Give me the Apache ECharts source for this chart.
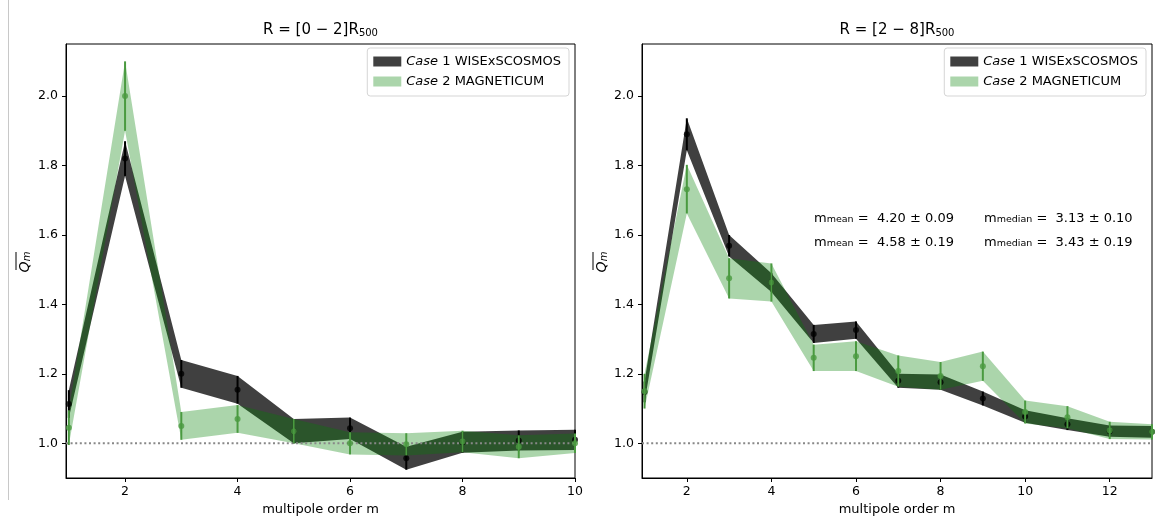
<!DOCTYPE html>
<html><head><meta charset="utf-8">
<script src="https://cdn.jsdelivr.net/npm/echarts@6/dist/echarts.min.js"></script>
<style>html,body{margin:0;padding:0;background:#fff}#c{width:1157px;height:527px}</style>
</head><body><div id="c"></div>
<script>
// ---- data ----
const mLeft = [1, 2, 3, 4, 5, 6, 7, 8, 9, 10];
const case1Left = [1.113, 1.82, 1.20, 1.154, 1.035, 1.043, 0.957, 1.003, 1.008, 1.010];
const case1LeftErr = [0.04, 0.05, 0.04, 0.04, 0.035, 0.031, 0.033, 0.030, 0.029, 0.029];
const case2Left = [1.045, 2.00, 1.05, 1.07, 1.035, 1.00, 0.997, 1.005, 0.990, 1.000];
const case2LeftErr = [0.05, 0.10, 0.04, 0.04, 0.035, 0.032, 0.032, 0.031, 0.033, 0.028];

const mRight = [1, 2, 3, 4, 5, 6, 7, 8, 9, 10, 11, 12, 13];
const case1Right = [1.148, 1.89, 1.569, 1.463, 1.315, 1.326, 1.180, 1.176, 1.129, 1.077, 1.055, 1.035, 1.033];
const case1RightErr = [0.03, 0.046, 0.031, 0.027, 0.026, 0.025, 0.020, 0.022, 0.020, 0.018, 0.017, 0.016, 0.017];
const case2Right = [1.15, 1.732, 1.475, 1.463, 1.246, 1.251, 1.208, 1.194, 1.222, 1.090, 1.075, 1.037, 1.033];
const case2RightErr = [0.05, 0.070, 0.058, 0.055, 0.038, 0.043, 0.045, 0.040, 0.042, 0.033, 0.032, 0.025, 0.022];

const xTicksLeft = [2, 4, 6, 8, 10];
const xTicksRight = [2, 4, 6, 8, 10, 12];
const yTicks = [1.0, 1.2, 1.4, 1.6, 1.8, 2.0];
const refLine = 1.0;

const seriesNames = ['Case 1 WISExSCOSMOS', 'Case 2 MAGNETICUM'];
const titles = ['R = [0 − 2]R', 'R = [2 − 8]R'];
const titleSub = '500';
const statsBlack = ['4.20 ± 0.09', '3.13 ± 0.10'];
const statsGreen = ['4.58 ± 0.19', '3.43 ± 0.19'];

// ---- styles ----
const FONT = 'DejaVu Sans';
const BLACK_BAND = 'rgba(0,0,0,0.75)';
const GREEN_BAND = 'rgba(0,128,0,0.33)';
const GREEN_PT = '#4a9a40';
const GREEN_TXT = '#519e46';

function bandSeries(name, gi, ms, vals, errs, color, z) {
  return {
    type: 'custom', name, xAxisIndex: gi, yAxisIndex: gi, z, silent: true,
    itemStyle: { color },
    data: ms.map((m, i) => [m, vals[i] - errs[i], vals[i] + errs[i]]),
    encode: { x: 0, y: [1, 2] },
    renderItem(params, api) {
      if (params.dataIndex !== 0) return null;
      const lower = [], upper = [];
      for (let i = 0; i < ms.length; i++) {
        lower.push(api.coord([ms[i], vals[i] - errs[i]]));
        upper.push(api.coord([ms[i], vals[i] + errs[i]]));
      }
      return { type: 'polygon', shape: { points: lower.concat(upper.reverse()) }, style: { fill: color } };
    }
  };
}
function errSeries(name, gi, ms, vals, errs, color, z) {
  return {
    type: 'custom', name, xAxisIndex: gi, yAxisIndex: gi, z, silent: true,
    data: ms.map((m, i) => [m, vals[i] - errs[i], vals[i] + errs[i]]),
    encode: { x: 0, y: [1, 2] },
    renderItem(params, api) {
      const a = api.coord([api.value(0), api.value(1)]);
      const b = api.coord([api.value(0), api.value(2)]);
      return { type: 'line', shape: { x1: a[0], y1: a[1], x2: b[0], y2: b[1] }, style: { stroke: color, lineWidth: 2 } };
    }
  };
}
function ptSeries(name, gi, ms, vals, color, z) {
  return {
    type: 'scatter', name, xAxisIndex: gi, yAxisIndex: gi, z, silent: true,
    symbol: 'circle', symbolSize: 6, itemStyle: { color },
    data: ms.map((m, i) => [m, vals[i]])
  };
}
function refSeries(gi, xmin, xmax, z) {
  return {
    type: 'line', name: 'ref' + gi, xAxisIndex: gi, yAxisIndex: gi, z, silent: true,
    symbol: 'none', lineStyle: { color: '#888', width: 2, type: [2, 2.6] },
    data: [[xmin, refLine], [xmax, refLine]]
  };
}

const grids = [
  { left: 66, top: 44, width: 509, height: 434 },
  { left: 642, top: 44, width: 510, height: 434 }
];
const xr = [[0.95, 10], [0.94, 13]];
const xt = [xTicksLeft, xTicksRight];

const option = {
  animation: false,
  backgroundColor: '#fff',
  grid: grids.map(g => Object.assign({ show: true, borderColor: '#000', borderWidth: 1, backgroundColor: 'transparent' }, g)),
  xAxis: [0, 1].map(i => ({
    type: 'value', gridIndex: i, min: xr[i][0], max: xr[i][1],
    axisLine: { show: true, onZero: false, lineStyle: { color: '#000', width: 1 } },
    axisTick: { show: true, length: 4, customValues: xt[i], lineStyle: { color: '#000' } },
    axisLabel: { customValues: xt[i], color: '#000', fontFamily: FONT, fontSize: 12.5, margin: 7 },
    splitLine: { show: false },
    name: 'multipole order m', nameLocation: 'middle', nameGap: 25,
    nameTextStyle: { color: '#000', fontFamily: FONT, fontSize: 13 }
  })),
  yAxis: [0, 1].map(i => ({
    type: 'value', gridIndex: i, min: 0.9, max: 2.15,
    axisLine: { show: true, onZero: false, lineStyle: { color: '#000', width: 1 } },
    axisTick: { show: true, length: 4, customValues: yTicks, lineStyle: { color: '#000' } },
    axisLabel: { customValues: yTicks, color: '#000', fontFamily: FONT, fontSize: 12.5, margin: 8,
      formatter: v => v.toFixed(1) },
    splitLine: { show: false }
  })),
  legend: [588, 11].map(r => ({
    data: seriesNames, orient: 'vertical', right: r, top: 48,
    icon: 'rect', itemWidth: 28, itemHeight: 10, itemGap: 7,
    padding: [7, 8, 8, 6], borderColor: '#d5d5d5', borderWidth: 1, borderRadius: 3,
    backgroundColor: 'rgba(255,255,255,0.85)', selectedMode: false,
    formatter: n => n.replace('Case', '{i|Case}'),
    textStyle: { color: '#000', fontFamily: FONT, fontSize: 13,
      rich: { i: { fontStyle: 'italic', fontFamily: FONT, fontSize: 13, color: '#000' } } }
  })),
  series: [
    bandSeries(seriesNames[0], 0, mLeft, case1Left, case1LeftErr, BLACK_BAND, 2),
    bandSeries(seriesNames[1], 0, mLeft, case2Left, case2LeftErr, GREEN_BAND, 3),
    refSeries(0, xr[0][0], xr[0][1], 4),
    errSeries('e1L', 0, mLeft, case1Left, case1LeftErr, '#000', 5),
    ptSeries('p1L', 0, mLeft, case1Left, '#000', 5),
    errSeries('e2L', 0, mLeft, case2Left, case2LeftErr, GREEN_PT, 6),
    ptSeries('p2L', 0, mLeft, case2Left, GREEN_PT, 6),

    bandSeries(seriesNames[0], 1, mRight, case1Right, case1RightErr, BLACK_BAND, 2),
    bandSeries(seriesNames[1], 1, mRight, case2Right, case2RightErr, GREEN_BAND, 3),
    refSeries(1, xr[1][0], xr[1][1], 4),
    errSeries('e1R', 1, mRight, case1Right, case1RightErr, '#000', 5),
    ptSeries('p1R', 1, mRight, case1Right, '#000', 5),
    errSeries('e2R', 1, mRight, case2Right, case2RightErr, GREEN_PT, 6),
    ptSeries('p2R', 1, mRight, case2Right, GREEN_PT, 6)
  ],
  graphic: []
};

const titleRich = {
  n: { fontFamily: FONT, fontSize: 15, color: '#000', lineHeight: 18, verticalAlign: 'bottom' },
  s: { fontFamily: FONT, fontSize: 10, color: '#000', lineHeight: 9, verticalAlign: 'bottom' }
};
[320.5, 897].forEach((cx, i) => {
  option.graphic.push({ type: 'text', x: cx, y: 29, z: 100,
    style: { text: '{n|' + titles[i] + '}{s|' + titleSub + '}', align: 'center', verticalAlign: 'middle', rich: titleRich } });
});
// y axis labels (overlined Q_m)
const qRich = {
  q: { fontFamily: FONT, fontSize: 14, fontStyle: 'italic', color: '#000', lineHeight: 16, verticalAlign: 'bottom' },
  m: { fontFamily: FONT, fontSize: 10, fontStyle: 'italic', color: '#000', lineHeight: 12, verticalAlign: 'bottom' }
};
[[24, 16], [601, 593]].forEach(([tx, lx]) => {
  option.graphic.push({ type: 'text', x: tx, y: 262, rotation: Math.PI / 2, z: 100,
    style: { text: '{q|Q}{m|m}', align: 'center', verticalAlign: 'middle', rich: qRich } });
  option.graphic.push({ type: 'line', z: 100, shape: { x1: lx, y1: 252, x2: lx, y2: 270 }, style: { stroke: '#000', lineWidth: 1 } });
});
// stats annotations
function statRich(color) {
  return {
    b: { fontFamily: FONT, fontSize: 13, color, lineHeight: 16, verticalAlign: 'bottom' },
    s: { fontFamily: FONT, fontSize: 9.5, color, lineHeight: 8, verticalAlign: 'bottom' }
  };
}
[[statsBlack, '#000', 217], [statsGreen, GREEN_TXT, 241]].forEach(([st, col, y]) => {
  option.graphic.push({ type: 'text', x: 814, y, z: 100,
    style: { text: '{b|m}{s|mean}{b| =  ' + st[0] + '}', verticalAlign: 'middle', rich: statRich(col) } });
  option.graphic.push({ type: 'text', x: 984, y, z: 100,
    style: { text: '{b|m}{s|median}{b| =  ' + st[1] + '}', verticalAlign: 'middle', rich: statRich(col) } });
});
// thin page edge line at left
option.graphic.push({ type: 'line', z: 0, shape: { x1: 8.5, y1: 0, x2: 8.5, y2: 500 }, style: { stroke: '#c8c8c8', lineWidth: 1 } });

const chart = echarts.init(document.getElementById('c'), null, { renderer: 'canvas' });
chart.setOption(option);
</script>
</body></html>
